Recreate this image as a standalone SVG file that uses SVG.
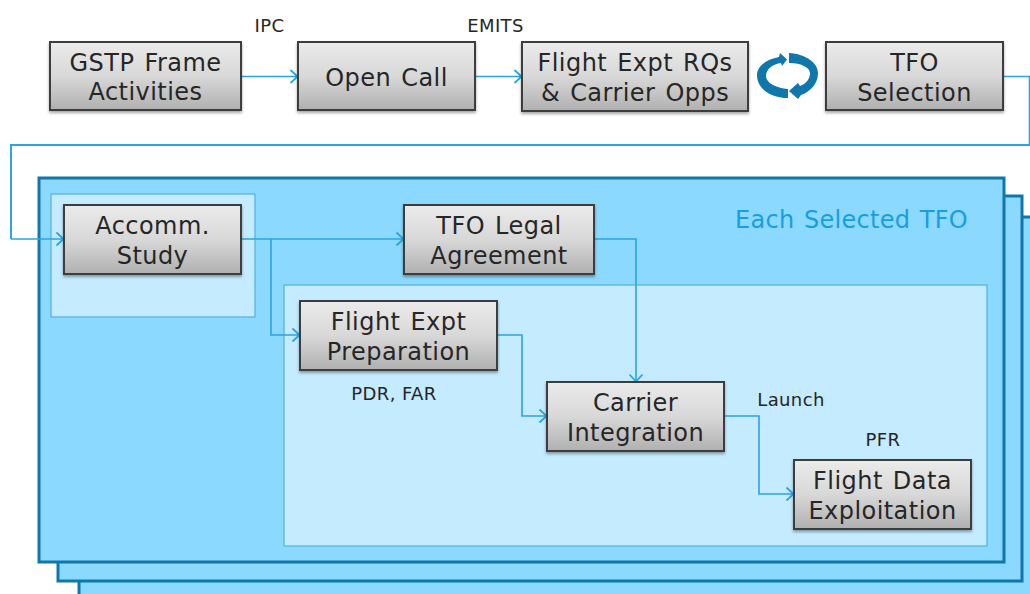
<svg xmlns="http://www.w3.org/2000/svg" width="1030" height="594" viewBox="0 0 1030 594">
<style>
text{font-family:"DejaVu Sans","Liberation Sans",sans-serif;fill:#262626;text-anchor:middle}
.n{font-size:24px;letter-spacing:.45px;word-spacing:2px}
.l{font-size:18px;letter-spacing:.4px}
.t{fill:#189ee0;font-size:24px;letter-spacing:.3px;word-spacing:1.5px}
.box{fill:url(#g);stroke:#3c3c3c;stroke-width:2;filter:url(#s)}
.st{fill:#8bd9ff;stroke:#0f77ab;stroke-width:3}
.in{fill:#c4ebff;stroke:#56b5e2;stroke-width:1.3}
.c{fill:none;stroke:#2ba4df;stroke-width:1.6}
</style>
<defs>
<linearGradient id="g" x1="0" y1="0" x2="0" y2="1"><stop offset="0" stop-color="#ebebeb"/><stop offset=".5" stop-color="#d8d8d8"/><stop offset="1" stop-color="#b0b0b0"/></linearGradient>
<filter id="s" x="-5%" y="-5%" width="110%" height="120%"><feDropShadow dx="0" dy="2" stdDeviation="1.5" flood-color="#000" flood-opacity=".35"/></filter>
<marker id="a" markerUnits="userSpaceOnUse" markerWidth="14" markerHeight="16" refX="11" refY="8" orient="auto"><path d="M3.500 1.500L10.500 8L3.500 14.500" fill="none" stroke="#2ba4df" stroke-width="1.8"/></marker>
</defs>
<g id="stack">
<rect class="st" x="79" y="217" width="960" height="400"/>
<rect class="st" x="58" y="196" width="964" height="385"/>
<rect class="st" x="39" y="178" width="965" height="384"/>
<rect class="in" x="51" y="194" width="204" height="123"/>
<rect class="in" x="284" y="285" width="703" height="261"/>
<text class="t" x="851.500" y="228">Each Selected TFO</text>
</g>
<g id="connectors">
<path class="c" marker-end="url(#a)" d="M241 76.500H298"/>
<path class="c" marker-end="url(#a)" d="M475 76.500H522"/>
<path class="c" d="M1003 76.500H1029.500V145"/>
<path class="c" style="stroke-width:2" d="M1030 145H11V239"/>
<path class="c" marker-end="url(#a)" d="M11 239H64"/>
<path class="c" marker-end="url(#a)" d="M241 239H404"/>
<path class="c" marker-end="url(#a)" d="M271 239V335H300"/>
<path class="c" marker-end="url(#a)" d="M594 239H636V382"/>
<path class="c" marker-end="url(#a)" d="M497 335H522V416H547"/>
<path class="c" marker-end="url(#a)" d="M724 416H759V494H794"/>
</g>
<g id="cycle" fill="#0f77ab">
<path d="M788 98C770 98 757 88 757 75C757 66 767 59 779 57L780 53L787 59.500L782 66L781 63C773 64 766 69 766 76C766 83 776 88 788 89Z"/>
<path d="M789 53C806 54 818 63 818 73C818 84 810 92 801 95L798 99L789 91L798 83L800 86C806 84 810 79 810 73C810 68 802 63 789 63Z"/>
</g>
<g id="gstp"><rect class="box" x="50" y="42" width="191" height="68"/><text class="n" x="145.500" y="71">GSTP Frame</text><text class="n" x="145.500" y="100">Activities</text></g>
<g id="open-call"><rect class="box" x="298" y="42" width="177" height="68"/><text class="n" x="386.500" y="86">Open Call</text></g>
<g id="flight-rqs"><rect class="box" x="522" y="42" width="226" height="69"/><text class="n" x="635" y="71">Flight Expt RQs</text><text class="n" x="635" y="101">&amp; Carrier Opps</text></g>
<g id="tfo-selection"><rect class="box" x="826" y="42" width="177" height="68"/><text class="n" x="914.500" y="71">TFO</text><text class="n" x="914.500" y="101">Selection</text></g>
<g id="accomm"><rect class="box" x="64" y="205" width="177" height="69"/><text class="n" x="152.500" y="234">Accomm.</text><text class="n" x="152.500" y="264">Study</text></g>
<g id="legal"><rect class="box" x="404" y="205" width="190" height="69"/><text class="n" x="499" y="234">TFO Legal</text><text class="n" x="499" y="264">Agreement</text></g>
<g id="prep"><rect class="box" x="300" y="301" width="197" height="69"/><text class="n" x="398.500" y="330">Flight Expt</text><text class="n" x="398.500" y="360">Preparation</text></g>
<g id="carrier"><rect class="box" x="547" y="382" width="177" height="69"/><text class="n" x="635.500" y="411">Carrier</text><text class="n" x="635.500" y="441">Integration</text></g>
<g id="exploitation"><rect class="box" x="794" y="460" width="177" height="69"/><text class="n" x="882.500" y="489">Flight Data</text><text class="n" x="882.500" y="519">Exploitation</text></g>
<g id="labels">
<text class="l" x="269.500" y="32">IPC</text>
<text class="l" x="495.500" y="32">EMITS</text>
<text class="l" x="394" y="400">PDR, FAR</text>
<text class="l" x="791" y="406">Launch</text>
<text class="l" x="883" y="446">PFR</text>
</g>
</svg>
